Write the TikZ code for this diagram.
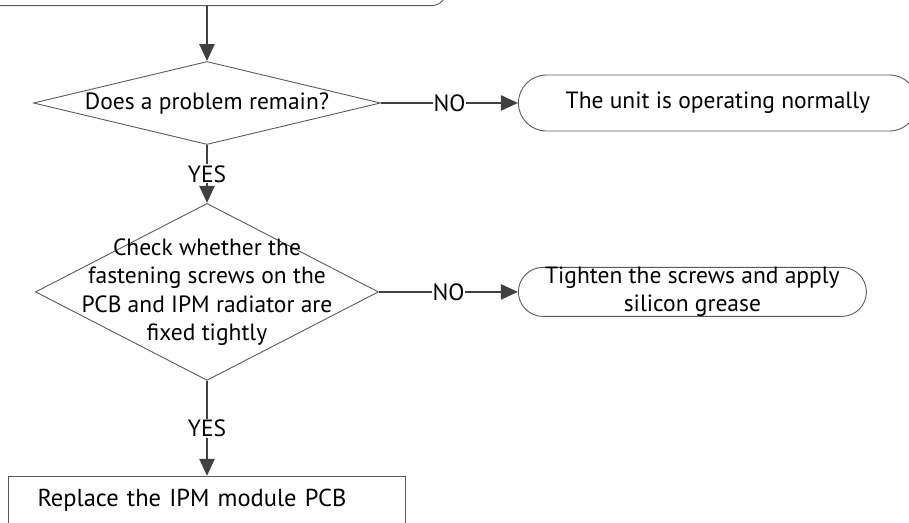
\documentclass[tikz,border=0pt]{standalone}
\usepackage{fontspec}
\setmainfont{PT Sans}
\usetikzlibrary{positioning,arrows.meta,shapes.geometric,shapes.misc}
\definecolor{linegray}{HTML}{404040}
\definecolor{edgegray}{HTML}{5A5A5A}

\begin{document}
\begin{tikzpicture}[x=1pt,y=1pt,
    font=\fontsize{23.5}{28.5}\selectfont,
    decision/.style={draw=edgegray,line width=0.9pt,diamond,inner sep=0pt},
    term/.style={draw=edgegray,line width=0.9pt,rounded rectangle,minimum height=56pt,inner sep=0pt},
    procbox/.style={draw=edgegray,line width=0.9pt,rectangle,inner xsep=29pt,inner ysep=13pt,align=left},
    arr/.style={-{Triangle[length=17pt,width=15pt]},line width=2.4pt,draw=linegray},
    lbl/.style={fill=white,inner sep=1pt,text=black}
  ]
  \useasboundingbox (0,0) rectangle (909,-522);
  \clip (0,0) rectangle (909,-522);

  % Previous step (cut off)
  \node[draw=edgegray,line width=0.9pt,rounded corners=15pt,minimum width=600pt,minimum height=60pt,anchor=south east] (prev) at (447,-6) {};

  % Decisions
  \node[decision,minimum width=347pt,minimum height=83pt,label={center:Does a problem remain?}] (dec1) at (207,-103) {};
  \node[decision,below=58pt of dec1,minimum width=343pt,minimum height=177pt,
        label={[align=center]center:Check whether the\\fastening screws on the\\PCB and IPM radiator are\\fixed tightly}] (dec2) {};

  % Outcomes
  \node[term,right=137pt of dec1,minimum width=399pt] (ok) {The unit is operating normally};
  \node[term,right=139pt of dec2,minimum width=348pt,minimum height=49pt,
        label={[align=center]center:Tighten the screws and apply\\silicon grease}] (fix) {};
  \node[procbox,below=95pt of dec2,text width=339pt,text depth=45pt,font=\fontsize{24.5}{29}\selectfont] (repl) {Replace the IPM module PCB};

  \draw[arr] (prev.south -| dec1.north) -- (dec1.north);
  \draw[arr] (dec1.south) -- node[lbl]{YES} (dec2.north);
  \draw[arr] (dec2.south) -- node[lbl]{YES} (repl.north);
  \draw[arr] (dec1.east) -- node[lbl]{NO} (ok.west);
  \draw[arr] (dec2.east) -- node[lbl]{NO} (fix.west);
\end{tikzpicture}
\end{document}
